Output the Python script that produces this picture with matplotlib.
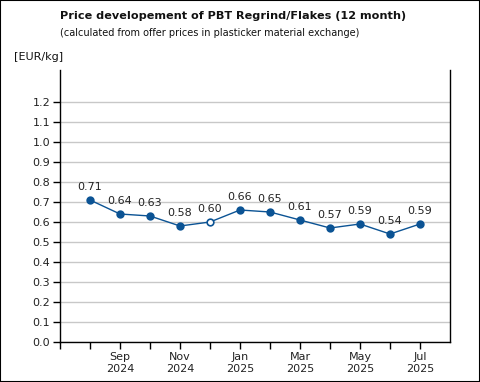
import numpy as np
import matplotlib.pyplot as plt
from matplotlib.patches import Rectangle

months = ['Aug 2024', 'Sep 2024', 'Oct 2024', 'Nov 2024', 'Dec 2024', 'Jan 2025',
          'Feb 2025', 'Mar 2025', 'Apr 2025', 'May 2025', 'Jun 2025', 'Jul 2025']
prices = [0.71, 0.64, 0.63, 0.58, 0.60, 0.66, 0.65, 0.61, 0.57, 0.59, 0.54, 0.59]
price_labels = ['0.71', '0.64', '0.63', '0.58', '0.60', '0.66',
                '0.65', '0.61', '0.57', '0.59', '0.54', '0.59']
hollow = [4]
tick_labels = ['', '', 'Sep\n2024', '', 'Nov\n2024', '', 'Jan\n2025', '',
               'Mar\n2025', '', 'May\n2025', '', 'Jul\n2025']
y_ticks = [round(0.1 * i, 1) for i in range(13)]

col = '#0b5394'
plt.rcParams['font.family'] = 'DejaVu Sans'

fig = plt.figure(figsize=(4.8, 3.82), dpi=100)
ax = fig.add_axes([60 / 480, 1 - 342 / 382, 390 / 480, 272 / 382])

x = np.arange(1, len(prices) + 1)
ax.plot(x, prices, color=col, lw=1, zorder=3)
for i, (xi, yi) in enumerate(zip(x, prices)):
    fc = 'white' if i in hollow else col
    ax.plot(xi, yi, marker='o', ms=4.8, mfc=fc, mec=col, mew=1.2, zorder=4)
    ax.annotate(price_labels[i], (xi, yi), xytext=(0, 6), textcoords='offset points',
                ha='center', va='bottom', fontsize=8, color='#222222')

ax.set_xlim(0, 13)
ax.set_ylim(0, 1.36)
ax.set_xticks(range(13))
ax.set_xticklabels(tick_labels, fontsize=8, color='#222222', linespacing=1.25)
ax.set_yticks(y_ticks)
ax.set_yticklabels(['%.1f' % v for v in y_ticks], fontsize=8, color='#222222')
ax.tick_params(axis='both', length=5, width=1, color='black', pad=2)
ax.yaxis.grid(True, color='#c8c8c8', lw=1)
ax.set_axisbelow(True)
ax.spines['top'].set_visible(False)
for s in ['left', 'right', 'bottom']:
    ax.spines[s].set_linewidth(1)
    ax.spines[s].set_color('black')

fig.text(60 / 480, 1 - 16 / 382, 'Price developement of PBT Regrind/Flakes (12 month)',
         fontsize=8.1, fontweight='bold', va='center', ha='left', color='#111111')
fig.text(60 / 480, 1 - 33 / 382, '(calculated from offer prices in plasticker material exchange)',
         fontsize=7.0, va='center', ha='left', color='#111111')
fig.text(14 / 480, 1 - 57 / 382, '[EUR/kg]', fontsize=8, va='center', ha='left', color='#111111')

fig.patches.append(Rectangle((0, 0), 1, 1, transform=fig.transFigure, fill=False,
                             edgecolor='black', lw=1.5))

fig.savefig('out.png', dpi=100)
